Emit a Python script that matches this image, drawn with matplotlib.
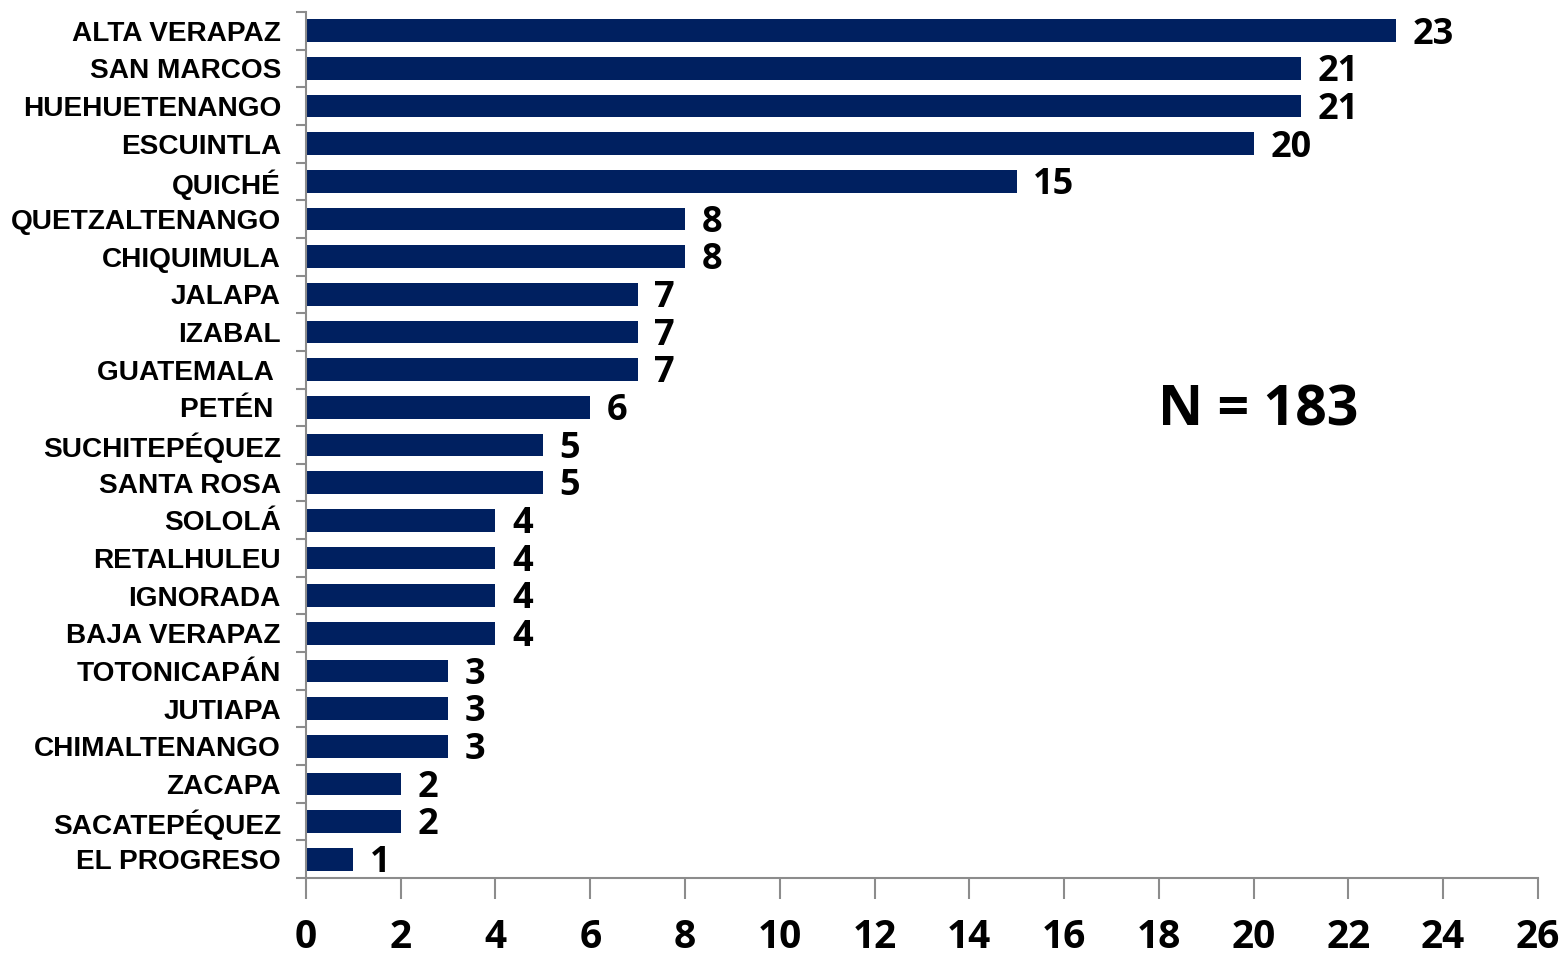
import matplotlib
matplotlib.use("Agg")
import matplotlib.pyplot as plt
import numpy as np

departments = [
    "ALTA VERAPAZ", "SAN MARCOS", "HUEHUETENANGO", "ESCUINTLA", "QUICHÉ",
    "QUETZALTENANGO", "CHIQUIMULA", "JALAPA", "IZABAL", "GUATEMALA ",
    "PETÉN ", "SUCHITEPÉQUEZ", "SANTA ROSA", "SOLOLÁ", "RETALHULEU",
    "IGNORADA", "BAJA VERAPAZ", "TOTONICAPÁN", "JUTIAPA", "CHIMALTENANGO",
    "ZACAPA", "SACATEPÉQUEZ", "EL PROGRESO",
]
cases = [23, 21, 21, 20, 15, 8, 8, 7, 7, 7, 6, 5, 5, 4, 4, 4, 4, 3, 3, 3, 2, 2, 1]
total_label = "N = 183"
x_ticks = list(range(0, 27, 2))

bar_color = "#002060"
axis_gray = "#8c8c8c"

fig = plt.figure(figsize=(15.65, 9.57), dpi=100)
ax = fig.add_axes([0.1955, 0.0825, 0.7872, 0.905])

y = np.arange(len(departments))
ax.barh(y, cases, height=0.6, color=bar_color)
ax.set_ylim(len(departments) - 0.5, -0.5)
ax.set_xlim(0, 26)

for yi, v in zip(y, cases):
    ax.text(v + 0.35, yi + 0.1, str(v), va="center", ha="left",
            fontsize=26, fontweight="bold", family="Open Sans")

ax.text(20.1, 10.1, total_label, ha="center", va="center",
        fontsize=40, fontweight="bold", family="Open Sans")

ax.set_yticks(y)
ax.set_yticklabels(departments, fontsize=20.2, fontweight="bold",
                   family="Liberation Sans")
ax.set_yticks(np.arange(-0.5, len(departments), 1), minor=True)
ax.tick_params(axis="y", which="major", length=0, pad=18)
ax.tick_params(axis="y", which="minor", length=7, color=axis_gray, width=1.5)

ax.set_xticks(x_ticks)
ax.set_xticklabels([str(t) for t in x_ticks], fontsize=28, fontweight="bold",
                   family="Open Sans")
ax.tick_params(axis="x", length=15, color=axis_gray, width=1.5, pad=14)

for side in ("top", "right"):
    ax.spines[side].set_visible(False)
for side in ("left", "bottom"):
    ax.spines[side].set_color(axis_gray)
    ax.spines[side].set_linewidth(1.5)

fig.savefig("out.png", dpi=100)
